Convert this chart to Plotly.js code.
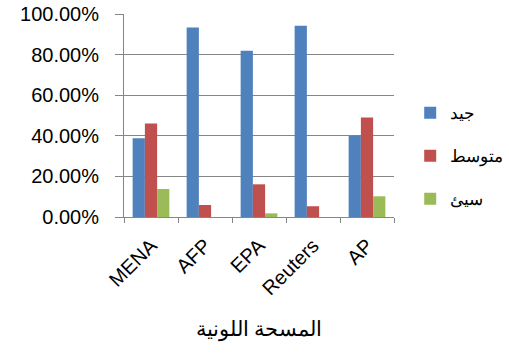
<!DOCTYPE html>
<html><head><meta charset="utf-8">
<script src="https://cdn.plot.ly/plotly-3.0.1.min.js"></script>
<style>body{margin:0;padding:0;background:#fff}#chart{width:509px;height:353px}</style>
</head><body><div id="chart"></div>
<script>
const categories = ["MENA", "AFP", "EPA", "Reuters", "AP"];
const seriesNames = ["جيد", "متوسط", "سيئ"];
const good = [0.388, 0.934, 0.819, 0.942, 0.400];
const medium = [0.461, 0.059, 0.161, 0.053, 0.490];
const bad = [0.138, 0, 0.018, 0, 0.102];
const colors = ["#4F81BD", "#C0504D", "#9BBB59"];
const values = [good, medium, bad];

const data = values.map((v, i) => ({
  type: "bar", x: categories, y: v, name: seriesNames[i],
  legendgroup: "g" + i,
  marker: {color: colors[i]}, hoverinfo: "y"
}));

const layout = {
  width: 509, height: 353,
  margin: {l: 124, r: 115, t: 14, b: 136, autoexpand: false},
  paper_bgcolor: "#fff", plot_bgcolor: "#fff",
  font: {family: "Liberation Sans, Arial, sans-serif", color: "#000"},
  barmode: "group", bargap: 0.32, bargroupgap: 0,
  xaxis: {
    showgrid: false, showline: true, linecolor: "#868686", linewidth: 1,
    ticks: "outside", tickson: "boundaries", ticklen: 5, tickcolor: "#868686",
    tickangle: -45, tickfont: {size: 20}, ticklabelstandoff: 8,
    title: {text: "المسحة اللونية", font: {size: 21}, standoff: 22}
  },
  yaxis: {
    range: [0, 1], dtick: 0.2, tickformat: ".2%",
    showgrid: true, gridcolor: "#868686", gridwidth: 1,
    showline: true, linecolor: "#868686", ticks: "outside", ticklen: 8, tickcolor: "#868686",
    tickfont: {size: 20}, zeroline: false, ticklabelstandoff: 12
  },
  legend: {x: 1.06, y: 0.3, xanchor: "left", yanchor: "middle",
    font: {size: 17}, tracegroupgap: 18, traceorder: "grouped", itemwidth: 30},
  showlegend: true
};
Plotly.newPlot("chart", data, layout, {displayModeBar: false, staticPlot: true});
</script></body></html>
